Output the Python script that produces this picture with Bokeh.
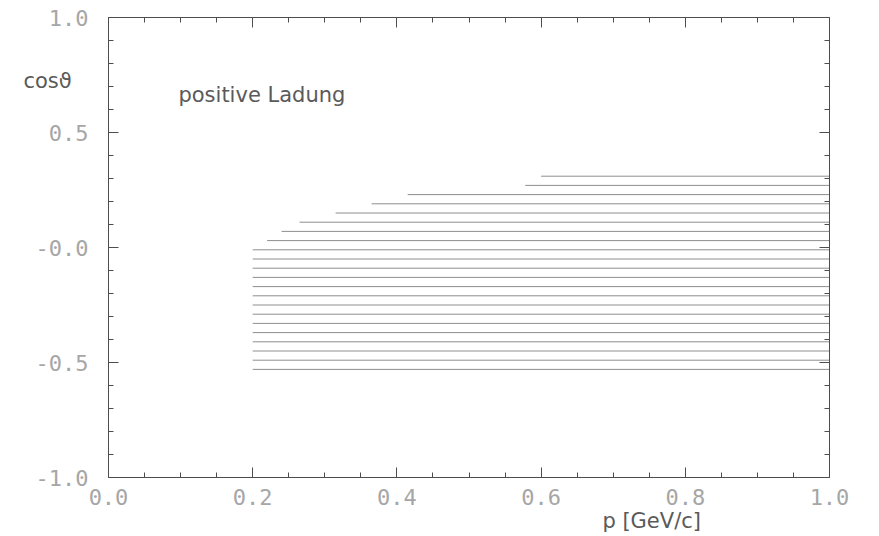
from bokeh.plotting import figure
from bokeh.models import (LinearAxis, FixedTicker, PrintfTickFormatter, Label, Range1d,
                          CustomJSTickFormatter)
from bokeh.embed import file_html
from bokeh.resources import INLINE

# ---- data ----
cos_levels = [0.31, 0.27, 0.23, 0.19, 0.15, 0.11, 0.07, 0.03, -0.01, -0.05, -0.09,
              -0.13, -0.17, -0.21, -0.25, -0.29, -0.33, -0.37, -0.41, -0.45, -0.49, -0.53]
p_start = [0.600, 0.578, 0.415, 0.365, 0.315, 0.265, 0.240, 0.220, 0.200, 0.200, 0.200,
           0.200, 0.200, 0.200, 0.200, 0.200, 0.200, 0.200, 0.200, 0.200, 0.200, 0.200]
p_end = [1.0] * len(cos_levels)

x_major = [0.0, 0.2, 0.4, 0.6, 0.8, 1.0]
x_minor = [0.05, 0.1, 0.15, 0.25, 0.3, 0.35, 0.45, 0.5, 0.55, 0.65, 0.7, 0.75, 0.85, 0.9, 0.95]
y_major = [-1.0, -0.5, 0.0, 0.5, 1.0]
y_minor = [-0.9, -0.8, -0.7, -0.6, -0.4, -0.3, -0.2, -0.1, 0.1, 0.2, 0.3, 0.4, 0.6, 0.7, 0.8, 0.9]
y_label_overrides = {0: "-0.0"}

AXIS_COLOR = "#4d4d4d"
TICKLABEL_COLOR = "#a6a6a6"
TEXT_COLOR = "#5a5a5a"
HATCH_COLOR = "#8e8e8e"

# plotting box spans x 108..829 px and y 17..477 px of the 879x536 canvas;
# the frame covers the whole canvas and the box axes are fixed at the data limits
W, H = 879, 536
L, R, T, B = 108, 829, 17, 477
sx = (R - L) / 1.0
sy = (B - T) / 2.0
x_range = Range1d(-L / sx, (W - L) / sx)
y_range = Range1d(1 - (H - T) / sy, 1 + T / sy)

p = figure(width=W, height=H, x_range=x_range, y_range=y_range,
           output_backend="svg", toolbar_location=None,
           x_axis_location=None, y_axis_location=None,
           min_border=0)
p.grid.visible = False
p.outline_line_color = None
p.background_fill_color = "white"
p.border_fill_color = "white"


def style_axis(ax, standoff):
    ax.axis_line_color = AXIS_COLOR
    ax.axis_line_width = 1
    ax.major_tick_line_color = AXIS_COLOR
    ax.minor_tick_line_color = AXIS_COLOR
    ax.major_tick_in = 10
    ax.major_tick_out = 0
    ax.minor_tick_in = 5
    ax.minor_tick_out = 0
    ax.major_label_standoff = standoff
    ax.major_label_text_font = "DejaVu Sans Mono"
    ax.major_label_text_color = TICKLABEL_COLOR
    ax.major_label_text_font_size = "22px"


xt = FixedTicker(ticks=x_major, minor_ticks=x_minor)
yt = FixedTicker(ticks=y_major, minor_ticks=y_minor)
blank = CustomJSTickFormatter(code="return '';")

bottom = LinearAxis(ticker=xt, formatter=PrintfTickFormatter(format="%.1f"),
                    fixed_location=-1.0, bounds=(0.0, 1.0))
style_axis(bottom, 11)
top = LinearAxis(ticker=xt, formatter=blank, fixed_location=1.0, bounds=(0.0, 1.0))
style_axis(top, 0)
left = LinearAxis(ticker=yt, formatter=PrintfTickFormatter(format="%.1f"),
                  major_label_overrides=y_label_overrides,
                  fixed_location=0.0, bounds=(-1.0, 1.0))
style_axis(left, 20)
right = LinearAxis(ticker=yt, formatter=blank, fixed_location=1.0, bounds=(-1.0, 1.0))
style_axis(right, 0)

p.add_layout(bottom, "below")
p.add_layout(left, "left")
p.add_layout(top, "above")
p.add_layout(right, "right")

# hatched acceptance region
p.segment(x0=p_start, y0=cos_levels, x1=p_end, y1=cos_levels,
          line_color=HATCH_COLOR, line_width=1)

p.add_layout(Label(x=0.097, y=0.661, text="positive Ladung", text_baseline="middle",
                   text_font="DejaVu Sans", text_font_size="21px", text_color=TEXT_COLOR))
p.add_layout(Label(x=-0.118, y=0.726, text="cosϑ", text_baseline="middle",
                   text_font="DejaVu Sans", text_font_size="21px", text_color=TEXT_COLOR))
p.add_layout(Label(x=0.685, y=-1.187, text="p [GeV/c]", text_baseline="middle",
                   text_font="DejaVu Sans", text_font_size="21px", text_color=TEXT_COLOR))

open("out.html", "w").write(file_html(p, INLINE))
